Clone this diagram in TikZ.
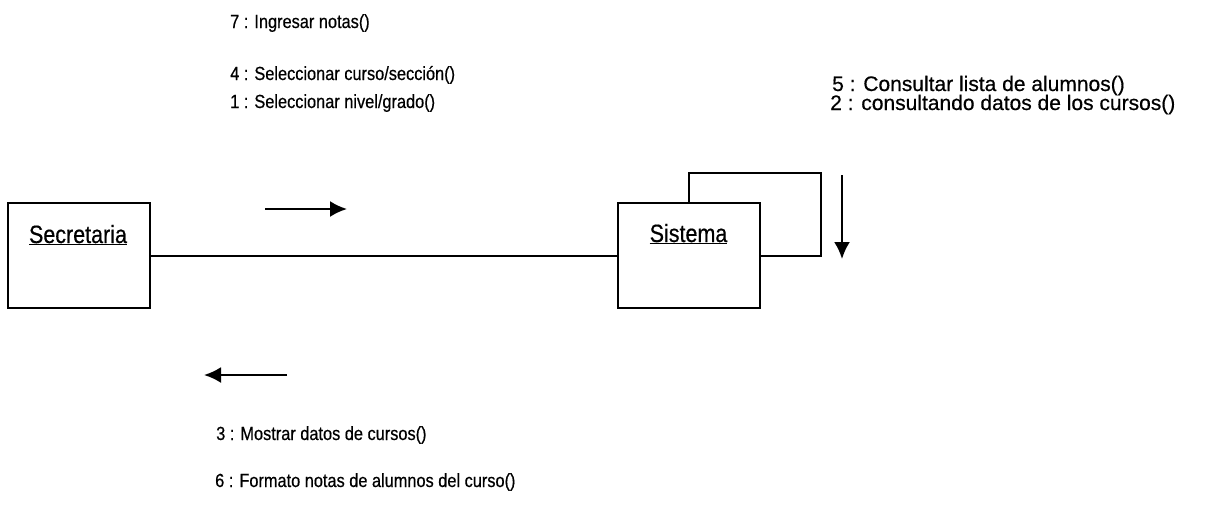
\documentclass[tikz,border=0pt]{standalone}
\usepackage{fontspec}
\setmainfont[FakeBold=0.5]{Liberation Sans}
\newfontfamily\narrowfont[FakeStretch=0.86,FakeBold=0.5]{Liberation Sans}
\usetikzlibrary{arrows.meta}
\begin{document}
\begin{tikzpicture}[x=1pt,y=-1pt,
  obj/.style={draw,line width=2pt,minimum width=142pt,minimum height=105pt,inner sep=0pt},
  lbl/.style={anchor=base west,inner sep=0pt,font=\narrowfont\fontsize{19}{21}\selectfont},
  rlbl/.style={anchor=base west,inner sep=0pt,font=\fontsize{21}{22}\selectfont},
  oname/.style={anchor=base,inner sep=0pt,font=\narrowfont\fontsize{25}{27}\selectfont},
  link/.style={line width=2pt},
  msg/.style={line width=2.2pt,-{Latex[length=17pt,width=16pt]}}]
\useasboundingbox (0,0) rectangle (1214,512);
\node[obj] (sec) at (79,255.5) {};
\node[obj] (sis) at (688.5,255.5) {};
\node[oname] (secname) at (78,243) {\underline{Secretaria}};
\node[oname] (sisname) at (688.5,242) {\underline{Sistema}};
\draw[link] (sec.east) -- (sis.west);
\coordinate (lp) at (821,173);
\draw[link] (sis.north) |- (lp) |- (sis.east);
% message arrows
\coordinate (r1) at (265,209);
\coordinate (r2) at (347,209);
\draw[msg] (r1) -- (r2);
\coordinate (l1) at (287,375);
\coordinate (l2) at (204,375);
\draw[msg] (l1) -- (l2);
\coordinate (d1) at (842,175);
\coordinate (d2) at (842,259);
\draw[msg] (d1) -- (d2);
% labels
\node[lbl] (m7) at (230,28) {7 : Ingresar notas()};
\node[lbl] (m4) at (230,80) {4 : Seleccionar curso/sección()};
\node[lbl] (m1) at (230,108) {1 : Seleccionar nivel/grado()};
\node[rlbl] (m5) at (832,91) {5 : Consultar lista de alumnos()};
\node[rlbl] (m2) at (830,110) {2 : consultando datos de los cursos()};
\node[lbl] (m3) at (216,440) {3 : Mostrar datos de cursos()};
\node[lbl] (m6) at (215,487) {6 : Formato notas de alumnos del curso()};
\end{tikzpicture}
\end{document}
